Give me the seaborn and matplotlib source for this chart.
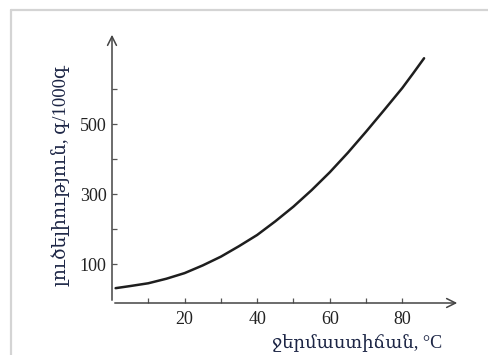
import matplotlib
matplotlib.use("Agg")
import matplotlib.pyplot as plt
from matplotlib.lines import Line2D
import seaborn as sns

# values
temperature = [1, 5, 10, 15, 20, 25, 30, 35, 40, 45, 50, 55, 60, 65, 70, 75, 80, 83, 86]
solubility = [31, 37, 45, 58, 74, 96, 121, 151, 183, 222, 264, 311, 362, 418, 478, 540, 603, 645, 688]

x_ticks = [10, 20, 30, 40, 50, 60, 70, 80]
x_tick_labels = ["", "20", "", "40", "", "60", "", "80"]
y_ticks = [100, 200, 300, 400, 500, 600]
y_tick_labels = ["100", "", "300", "", "500", ""]

x_label = "ջերմաստիճան, °C"
y_label = "լուծելիություն, գ/1000գ"

sns.set_style("white")
plt.rcParams["font.family"] = ["Liberation Serif", "DejaVu Serif", "DejaVu Sans"]

fig = plt.figure(figsize=(4.89, 3.55), dpi=100)
ax = fig.add_axes([112 / 489, 1 - 303 / 355, 348 / 489, 271 / 355])

sns.lineplot(x=temperature, y=solubility, ax=ax, color="#1e1e1e", linewidth=1.8)

ax.set_xlim(0, 95.9)
ax.set_ylim(-11.4, 763)

ax.set_xticks(x_ticks)
ax.set_xticklabels(x_tick_labels)
ax.set_yticks(y_ticks)
ax.set_yticklabels(y_tick_labels)
ax.tick_params(axis="both", direction="in", length=3.5, width=0.9,
               bottom=True, left=True,
               colors="#555555", labelcolor="#222222", labelsize=13)
ax.tick_params(axis="x", pad=6)
ax.tick_params(axis="y", pad=4)

for s in ax.spines.values():
    s.set_visible(False)

# axes drawn as arrows
arrow = dict(arrowstyle="->", color="#444444", lw=1.1, mutation_scale=16)
ax.annotate("", xy=(1, 0), xytext=(0, 0), xycoords="axes fraction", arrowprops=arrow)
ax.annotate("", xy=(0, 1), xytext=(0, 0), xycoords="axes fraction", arrowprops=arrow)

ax.set_xlabel(x_label, loc="right", fontsize=13, color="#1c2545")
ax.xaxis.label.set_va("center")
ax.xaxis.set_label_coords((442 - 112) / 348, -0.148)

ax.set_ylabel(y_label, fontsize=13.5, color="#1c2545")
ax.yaxis.label.set_va("center")
ax.yaxis.set_label_coords(-0.147, 0.469)

# light frame around the picture (top and left edges only)
fx, fy = 11 / 489, 1 - 10 / 355
fig.add_artist(Line2D([fx, 1], [fy, fy], transform=fig.transFigure,
                      color="#d4d4d4", linewidth=1.6))
fig.add_artist(Line2D([fx, fx], [0, fy], transform=fig.transFigure,
                      color="#d4d4d4", linewidth=1.6))

fig.savefig("out.png", dpi=100)
